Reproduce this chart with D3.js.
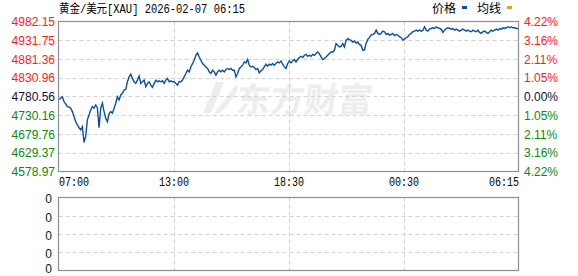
<!DOCTYPE html>
<html><head><meta charset="utf-8">
<script src="https://cdn.jsdelivr.net/npm/d3@7"></script>
<style>body{margin:0;background:#fff}svg{display:block}</style>
</head><body><svg id="c" width="578" height="276"></svg>
<script>
const titleText = "黄金/美元[XAU] 2026-02-07 06:15";
const legendNames = ["价格", "均线"];
const legendColors = ["#0d4f9f", "#e3a21a"];
const timeLabels = ["07:00", "13:00", "18:30", "00:30", "06:15"];
const priceTicks = [4982.15, 4931.75, 4881.36, 4830.96, 4780.56, 4730.16, 4679.76, 4629.37, 4578.97];
const pctLabels = ["4.22%", "3.16%", "2.11%", "1.05%", "0.00%", "1.05%", "2.11%", "3.16%", "4.22%"];
const volLabels = ["0", "0", "0", "0", "0"];
const prices = [
4772.5,4775.8,4780.0,4766.7,4760.5,4753.3,4752.5,4749.1,4740.0,4726.6,
4713.3,4704.5,4696.5,4691.1,4699.1,4657.2,4673.2,4717.8,4731.2,4744.5,
4753.3,4749.1,4757.9,4749.9,4696.5,4749.1,4762.4,4740.0,4722.4,4713.3,
4733.8,4740.0,4735.7,4749.1,4762.4,4780.0,4771.2,4784.6,4789.1,4797.9,
4799.8,4820.1,4833.4,4840.6,4829.2,4820.1,4815.8,4824.6,4835.3,4815.8,
4820.1,4824.6,4806.7,4815.8,4820.1,4811.3,4805.1,4815.8,4824.6,4820.1,
4822.8,4820.1,4822.8,4815.8,4824.6,4829.2,4820.1,4822.8,4820.1,4820.1,
4815.8,4811.3,4820.1,4820.1,4824.6,4833.4,4842.5,4851.3,4846.8,4860.1,
4869.2,4878.0,4891.4,4897.5,4886.8,4878.0,4869.2,4864.7,4860.1,4855.9,
4846.8,4842.5,4851.3,4846.8,
4838.0,4846.8,4851.3,4846.8,4851.3,4846.8,4853.2,4855.9,4853.2,4855.9,
4851.3,4851.3,4833.4,4842.5,4855.9,4860.1,4864.7,4873.5,4870.8,4879.9,
4864.7,4860.1,4862.0,4858.5,4853.2,4855.9,4844.1,4849.5,4853.2,4860.1,
4867.3,4862.0,4867.3,4864.7,4869.2,4864.7,4869.2,4873.5,4870.8,4876.2,
4867.3,4860.1,4855.9,4869.2,4876.2,4870.8,4876.2,4879.9,4873.5,4879.9,
4885.2,4888.7,4885.2,4891.4,4894.0,4888.7,4891.4,4888.7,4894.0,4891.4,
4895.9,4900.2,4895.9,4886.8,4879.9,4882.6,4886.8,4891.4,4895.9,4900.2,
4900.2,4904.7,4922.6,4918.1,4913.5,4915.4,4922.6,4913.5,4931.4,4935.9,
4933.3,4931.4,4926.9,4929.6,4924.2,4926.9,4920.7,4918.1,4904.7,
4905.5,4923.4,4934.1,4939.4,4945.6,4947.4,4950.1,4958.9,4950.1,4947.4,
4950.1,4956.3,4954.7,4947.4,4950.1,4945.6,4947.4,4950.1,4944.0,4947.4,
4945.6,4941.3,4938.6,4932.2,4934.9,4938.6,4941.3,4947.4,4950.1,4954.7,
4956.3,4958.9,4956.3,4958.9,4956.3,4958.1,4968.0,4958.9,4956.3,4961.6,
4963.4,4965.3,4963.4,4968.0,4965.3,4963.4,4961.6,4952.8,4958.9,4963.4,
4965.3,4963.4,4961.6,4963.4,4958.9,4961.6,4958.9,4956.3,4958.9,4961.6,
4958.9,4956.3,4958.9,4956.3,4954.7,4958.9,4956.3,4954.7,4958.9,4952.8,
4950.1,4954.7,4956.3,4952.8,4950.1,4954.7,4958.9,4956.3,4958.9,4961.6,
4958.9,4963.4,4961.6,4965.3,4963.4,4965.3,4968.0,4965.3,4968.0,4965.3,
4965.3,4963.4,4963.4
];

const svg = d3.select("#c");
const RED = "#ff1a1a", GREEN = "#0a8a0a", DARK = "#111133";
const labelColor = i => i < 4 ? RED : (i === 4 ? DARK : GREEN);

const L = 58.5, R = 518.5, T = 21.5, B = 171.5;
const VT = 197.5, VB = 270.5;

const x = d3.scaleLinear().domain([0, prices.length - 1]).range([L + 0.5, R - 0.5]);
const y = d3.scaleLinear().domain([priceTicks[8], priceTicks[0]]).range([B, T]);
const xq = d3.scaleLinear().domain([0, timeLabels.length - 1]).range([L, R]);
const yv = d3.scaleLinear().domain([0, volLabels.length - 1]).range([VB, VT]);

// watermark
const wm = svg.append("g").attr("fill", "#ededed");
wm.append("path").attr("d", "M203,113 L216,82 L224,82 L211,113 Z");
wm.append("path").attr("d", "M214,113 C222,104 228,96 236,84 L238,90 C232,100 226,108 220,113 Z");
wm.append("text").attr("x", 237).attr("y", 97).attr("dominant-baseline", "central")
  .attr("font-family", "Noto Sans CJK SC").attr("font-weight", "bold").attr("font-size", 34)
  .attr("transform", "skewX(-6) translate(10,0)")
  .text("东方财富");

// grids
const grid = svg.append("g").attr("stroke", "#d2d2d2").attr("stroke-dasharray", "4,3").attr("stroke-width", 1);
priceTicks.slice(1, -1).forEach(p => {
  const yy = Math.round(y(p)) + 0.5;
  grid.append("line").attr("x1", L).attr("x2", R).attr("y1", yy).attr("y2", yy);
});
[1, 2, 3].forEach(i => {
  const xx = Math.round(xq(i)) + 0.5;
  grid.append("line").attr("x1", xx).attr("x2", xx).attr("y1", T).attr("y2", B);
  grid.append("line").attr("x1", xx).attr("x2", xx).attr("y1", VT).attr("y2", VB);
});
[1, 2, 3].forEach(i => {
  const yy = Math.round(yv(i)) + 0.5;
  grid.append("line").attr("x1", L).attr("x2", R).attr("y1", yy).attr("y2", yy);
});

// price line
svg.append("path").datum(prices)
  .attr("fill", "none").attr("stroke", "#0d4f9f").attr("stroke-width", 1.4)
  .attr("stroke-linejoin", "miter")
  .attr("d", d3.line().x((d, i) => x(i)).y(d => y(d)));

// borders
svg.append("rect").attr("x", L).attr("y", T).attr("width", R - L).attr("height", B - T)
  .attr("fill", "none").attr("stroke", "#8e8e8e").attr("stroke-width", 1.2);
svg.append("rect").attr("x", L).attr("y", VT).attr("width", R - L).attr("height", VB - VT)
  .attr("fill", "none").attr("stroke", "#8e8e8e").attr("stroke-width", 1.2);

// left axis
const leftAxis = svg.append("g").attr("transform", `translate(55,0)`)
  .call(d3.axisLeft(y).tickValues(priceTicks).tickSize(0).tickPadding(0).tickFormat(d3.format(".2f")));
leftAxis.select(".domain").remove();
leftAxis.selectAll("text").attr("font-family", "Liberation Sans, Arial, sans-serif").attr("font-size", 12)
  .attr("fill", (d, i) => labelColor(i)).attr("dy", "0.35em");

// right axis
const rightAxis = svg.append("g").attr("transform", `translate(524,0)`)
  .call(d3.axisRight(y).tickValues(priceTicks).tickSize(0).tickPadding(0).tickFormat((d, i) => pctLabels[i]));
rightAxis.select(".domain").remove();
rightAxis.selectAll("text").attr("font-family", "Liberation Sans, Arial, sans-serif").attr("font-size", 12)
  .attr("fill", (d, i) => labelColor(i)).attr("dy", "0.35em");

// bottom time axis
const tAxis = svg.append("g").attr("transform", `translate(0,${B})`)
  .call(d3.axisBottom(xq).tickValues(d3.range(timeLabels.length)).tickSize(0).tickPadding(0).tickFormat((d) => timeLabels[d]));
tAxis.select(".domain").remove();
tAxis.selectAll("text")
  .attr("font-family", "Liberation Mono, DejaVu Sans Mono, monospace").attr("font-size", 12)
  .attr("fill", "#000").attr("dy", "14.5")
  .attr("text-anchor", (d) => d === 0 ? "start" : (d === timeLabels.length - 1 ? "end" : "middle"))
  .attr("textLength", 30).attr("lengthAdjust", "spacingAndGlyphs");

// volume axis
const vAxis = svg.append("g").attr("transform", `translate(52,0)`)
  .call(d3.axisLeft(yv).tickValues(d3.range(volLabels.length)).tickSize(0).tickPadding(0).tickFormat(d => volLabels[d]));
vAxis.select(".domain").remove();
vAxis.selectAll("text").attr("font-family", "Liberation Sans, Arial, sans-serif").attr("font-size", 12)
  .attr("fill", DARK).attr("dy", (d) => d === 0 ? "0.15em" : "0.45em");

// title
svg.append("text").attr("x", 59).attr("y", 13)
  .attr("font-family", "Liberation Mono, Noto Sans CJK SC, monospace").attr("font-size", 12)
  .attr("textLength", 186).attr("lengthAdjust", "spacingAndGlyphs").attr("fill", "#000")
  .text(titleText);

// legend
const lg = svg.append("g");
const legX = [432, 477];
legendNames.forEach((n, i) => {
  lg.append("text").attr("x", legX[i]).attr("y", 13)
    .attr("font-family", "Noto Sans CJK SC").attr("font-size", 12).attr("fill", "#000").text(n);
  lg.append("rect").attr("x", legX[i] + 30).attr("y", 6).attr("width", 5).attr("height", 3)
    .attr("fill", legendColors[i]);
});
</script>
</body></html>
